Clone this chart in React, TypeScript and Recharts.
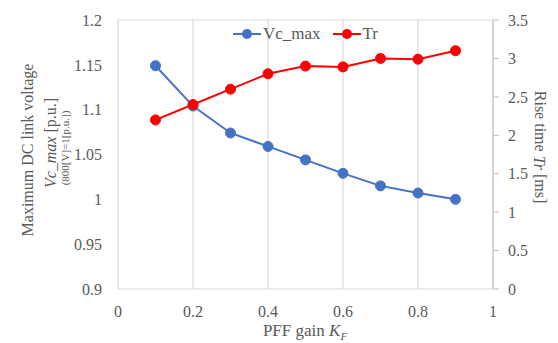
import { CartesianGrid, Label, Legend, Line, LineChart, XAxis, YAxis } from "recharts";

const BLUE = "#4472C4";
const RED = "#FF0000";
const GRID = "#d9d9d9";
const TEXT = "#595959";
const FONT = "Liberation Serif, DejaVu Serif, serif";

const gainKf = [0.1, 0.2, 0.3, 0.4, 0.5, 0.6, 0.7, 0.8, 0.9];
const vcMax = [1.149, 1.104, 1.074, 1.059, 1.044, 1.029, 1.015, 1.007, 1.0];
const riseTime = [2.2, 2.4, 2.6, 2.8, 2.9, 2.89, 3.0, 2.99, 3.1];

const xTicks = [0, 0.2, 0.4, 0.6, 0.8, 1];
const leftTicks = [0.9, 0.95, 1, 1.05, 1.1, 1.15, 1.2];
const rightTicks = [0, 0.5, 1, 1.5, 2, 2.5, 3, 3.5];

const data = gainKf.map((k, i) => ({ k, vc: vcMax[i], tr: riseTime[i] }));

const tick = { fill: TEXT, fontSize: 16, fontFamily: FONT };

function LegendBox() {
  const items = [
    { name: "Vc_max", color: BLUE },
    { name: "Tr", color: RED },
  ];
  return (
    <div style={{ display: "flex", justifyContent: "center", gap: 12, fontFamily: FONT, fontSize: 17, color: TEXT }}>
      {items.map((it) => (
        <div key={it.name} style={{ display: "flex", alignItems: "center" }}>
          <svg width={28} height={12} style={{ marginRight: 2 }}>
            <line x1={0} y1={6} x2={28} y2={6} stroke={it.color} strokeWidth={2} />
            <circle cx={14} cy={6} r={5} fill={it.color} />
          </svg>
          <span>{it.name}</span>
        </div>
      ))}
    </div>
  );
}

export default function App() {
  return (
    <div style={{ position: "absolute", left: 0, top: 0, background: "#fff", fontFamily: FONT }}>
      <LineChart width={558} height={343} data={data} margin={{ top: 20, right: 20, bottom: 4, left: 58 }}>
        <CartesianGrid stroke={GRID} strokeWidth={1.2} />
        <XAxis
          dataKey="k"
          type="number"
          domain={[0, 1]}
          ticks={xTicks}
          height={30}
          axisLine={false}
          tickLine={false}
          tickMargin={11}
          tick={tick}
        >
          <Label
            content={() => (
              <text x={305} y={336} textAnchor="middle" fill={TEXT} fontFamily={FONT} fontSize={17}>
                PFF gain <tspan fontStyle="italic">K</tspan>
                <tspan fontStyle="italic" fontSize={11} dy={4}>F</tspan>
              </text>
            )}
          />
        </XAxis>
        <YAxis
          yAxisId="left"
          domain={[0.9, 1.2]}
          ticks={leftTicks}
          width={60}
          axisLine={false}
          tickLine={false}
          tickMargin={10}
          tick={tick}
        >
          <Label
            content={() => (
              <g fill={TEXT} fontFamily={FONT}>
                <text transform="translate(27,150) rotate(-90)" textAnchor="middle" dominantBaseline="central" fontSize={16}>
                  Maximum DC link voltage
                </text>
                <text transform="translate(50,143) rotate(-90)" textAnchor="middle" dominantBaseline="central" fontSize={16}>
                  <tspan fontStyle="italic">Vc_max</tspan> [p.u.]
                </text>
                <text transform="translate(65,148) rotate(-90)" textAnchor="middle" dominantBaseline="central" fontSize={11}>
                  (800[V]=1[p.u.])
                </text>
              </g>
            )}
          />
        </YAxis>
        <YAxis
          yAxisId="right"
          orientation="right"
          domain={[0, 3.5]}
          ticks={rightTicks}
          width={45}
          axisLine={{ stroke: "#bfbfbf" }}
          tickLine={{ stroke: "#bfbfbf" }}
          tickSize={6}
          tickMargin={9}
          tick={tick}
        >
          <Label
            content={() => (
              <text transform="translate(540,147) rotate(90)" textAnchor="middle" dominantBaseline="central" fill={TEXT} fontFamily={FONT} fontSize={16}>
                Rise time <tspan fontStyle="italic">Tr</tspan> [ms]
              </text>
            )}
          />
        </YAxis>
        <Legend content={<LegendBox />} wrapperStyle={{ top: 24, left: 118, width: 375 }} />
        <Line
          yAxisId="left"
          dataKey="vc"
          name="Vc_max"
          stroke={BLUE}
          strokeWidth={2}
          dot={{ r: 5, fill: BLUE, stroke: BLUE, strokeWidth: 1 }}
          isAnimationActive={false}
        />
        <Line
          yAxisId="right"
          dataKey="tr"
          name="Tr"
          stroke={RED}
          strokeWidth={2}
          dot={{ r: 5, fill: RED, stroke: RED, strokeWidth: 1 }}
          isAnimationActive={false}
        />
      </LineChart>
    </div>
  );
}
